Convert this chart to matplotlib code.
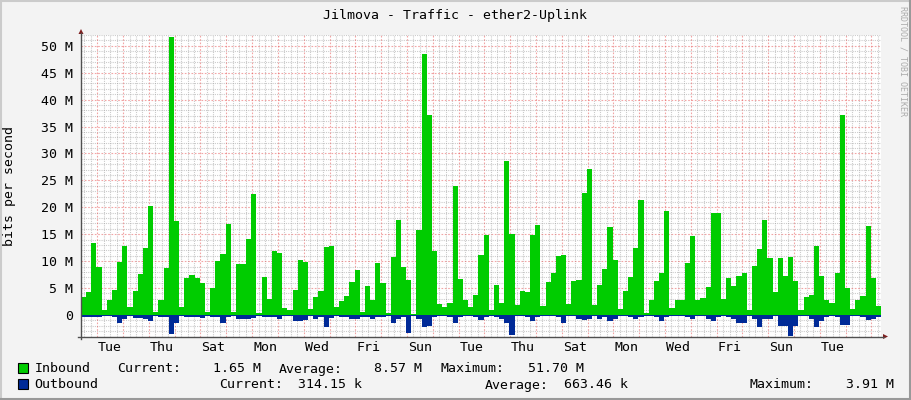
import numpy as np
import matplotlib
matplotlib.use("Agg")
import matplotlib.pyplot as plt
from matplotlib.patches import Rectangle, Polygon
from matplotlib.lines import Line2D

W, H = 911, 400

# traffic in Mbit/s, one sample every 4.8 hours (5 per day), 31 days
inbound = [
    3.4, 4.3, 13.4, 8.9, 0.9, 2.7, 4.6, 9.9, 12.9, 1.5, 4.5, 7.6, 12.4, 20.2, 0.6, 2.8, 8.7, 51.7, 17.4, 1.5, 6.9, 7.4, 6.9, 6.0, 0.6, 5.1,
    10.0, 11.3, 16.9, 0.6, 9.5, 9.5, 14.1, 22.5, 0.3, 7.1, 3.0, 11.9, 11.5, 1.3, 0.9, 4.6, 10.2, 9.8, 1.1, 3.4, 4.5, 12.6, 12.8, 1.4, 2.6, 3.6,
    6.2, 8.4, 0.6, 5.3, 2.7, 9.7, 6.0, 0.3, 10.8, 17.6, 8.9, 6.5, 0.2, 15.8, 48.5, 37.1, 11.8, 2.0, 1.4, 2.2, 23.9, 6.7, 2.8, 1.5, 3.7, 11.1,
    14.9, 0.9, 5.6, 2.3, 28.6, 15.0, 1.9, 4.5, 4.3, 14.9, 16.7, 1.7, 6.1, 7.8, 11.0, 11.1, 2.0, 6.4, 6.5, 22.7, 27.1, 1.9, 5.6, 8.6, 16.3, 10.2,
    1.1, 4.5, 7.1, 12.4, 21.3, 0.3, 2.8, 6.3, 7.8, 19.3, 1.3, 2.8, 2.8, 9.7, 14.7, 2.8, 3.2, 5.2, 18.9, 18.9, 3.0, 6.9, 5.4, 7.2, 7.8,
    0.9, 9.1, 12.3, 17.6, 10.6, 4.3, 10.6, 7.2, 10.8, 6.3, 0.9, 3.3, 3.7, 12.8, 7.2, 2.8, 2.2, 7.8, 37.1, 5.0, 1.1, 2.8, 3.5, 16.5, 6.9, 1.65,
]
outbound = [
    0.3, 0.3, 0.45, 0.45, 0.2, 0.2, 0.4, 1.4, 0.7, 0.2, 0.5, 0.5, 0.7, 1.2, 0.2, 0.3, 0.4, 3.6, 1.5, 0.2, 0.3, 0.4, 0.4, 0.6, 0.2, 0.3,
    0.4, 1.5, 0.3, 0.2, 0.8, 0.8, 0.8, 0.6, 0.2, 0.3, 0.3, 0.4, 0.8, 0.2, 0.2, 1.2, 1.2, 0.9, 0.2, 0.8, 0.4, 2.2, 0.6, 0.2, 0.3, 0.4,
    0.8, 0.8, 0.3, 0.3, 0.8, 0.3, 0.4, 0.2, 1.5, 0.7, 0.4, 3.4, 0.2, 0.7, 2.3, 2.0, 0.4, 0.2, 0.2, 0.4, 1.4, 0.4, 0.2, 0.2, 0.3, 0.9,
    0.3, 0.2, 0.3, 0.7, 1.4, 3.75, 0.2, 0.2, 0.4, 1.2, 0.4, 0.2, 0.2, 0.2, 0.4, 1.4, 0.2, 0.2, 0.8, 0.9, 0.8, 0.2, 0.7, 0.4, 1.2, 0.7,
    0.2, 0.2, 0.3, 0.7, 0.4, 0.2, 0.2, 0.4, 1.1, 0.4, 0.2, 0.2, 0.2, 0.4, 0.8, 0.2, 0.2, 0.7, 1.1, 0.4, 0.2, 0.4, 0.7, 1.4, 1.5,
    0.2, 0.7, 2.2, 0.7, 0.7, 0.2, 2.0, 2.0, 3.91, 2.0, 0.2, 0.2, 0.7, 2.2, 1.2, 0.3, 0.2, 0.4, 1.9, 1.9, 0.2, 0.2, 0.4, 0.9, 0.7, 0.31,
]
day_labels = ["Tue", "Thu", "Sat", "Mon", "Wed", "Fri", "Sun", "Tue",
              "Thu", "Sat", "Mon", "Wed", "Fri", "Sun", "Tue"]
samples_per_day = 5
first_midnight = 3.15  # in samples from the left edge

legend_rows = [
    ("Inbound", "#00CC00", [("Current:", 116.7), ("1.65 M", 212.7), ("Average:", 279.0),
                            ("8.57 M", 374.0), ("Maximum:", 440.7), ("51.70 M", 528.3)]),
    ("Outbound", "#002A97", [("Current:", 219.3), ("314.15 k", 298.0), ("Average:", 485.0),
                             ("663.46 k", 564.3), ("Maximum:", 749.7), ("3.91 M", 845.7)]),
]

plt.rcParams['font.family'] = 'DejaVu Sans Mono'
plt.rcParams['font.size'] = 9.5


def fx(x):
    return x / W


def fy(y):
    return 1 - y / H


fig = plt.figure(figsize=(W / 100, H / 100), dpi=100, facecolor='#F3F3F3')
ax = fig.add_axes([fx(81), fy(336.5), 800 / W, 301.5 / H])
ax.set_facecolor('white')

n = len(inbound)
x = np.arange(n + 1)
inb = np.append(inbound, inbound[-1])
outb = -np.append(outbound, outbound[-1])
ax.fill_between(x, 0, inb, step='post', color='#00CC00', lw=0, zorder=3)
ax.fill_between(x, 0, outb, step='post', color='#002A97', lw=0, zorder=3)
ax.set_xlim(0, n)
ax.set_ylim(-4.0, 52.0)

minor_kw = dict(color=(0.6, 0.6, 0.6, 0.5), lw=0.8, ls=(0, (1, 1)), zorder=1)
major_kw = dict(color=(0.9, 0.3, 0.3, 0.5), lw=0.8, ls=(0, (1.5, 1.5)), zorder=2)
for v in range(-4, 53):
    ax.axhline(v, **(major_kw if v % 5 == 0 else minor_kw))

step6h = samples_per_day / 4
k = -int(first_midnight // step6h)
while first_midnight + k * step6h < n:
    pos = first_midnight + k * step6h
    ax.axvline(pos, **(major_kw if k % 4 == 0 else minor_kw))
    k += 1

for s in ax.spines.values():
    s.set_visible(False)

yt = list(range(0, 51, 5))
ax.set_yticks(yt, ["0" if v == 0 else f"{v} M" for v in yt])
ax.tick_params(axis='y', length=0, pad=6)
xt = [first_midnight + samples_per_day / 2 + 2 * samples_per_day * i for i in range(len(day_labels))]
ax.set_xticks(xt, day_labels)
ax.tick_params(axis='x', length=0, pad=3)

# axes and arrows
axis_col = '#505050'
fig.add_artist(Line2D([fx(81), fx(81)], [fy(339), fy(33)], color=axis_col, lw=1))
fig.add_artist(Line2D([fx(78), fx(884)], [fy(336.5), fy(336.5)], color=axis_col, lw=1))
fig.add_artist(Polygon([[fx(78.5), fy(34)], [fx(83.5), fy(34)], [fx(81), fy(29)]],
                       closed=True, color='#7F1F1F', lw=0))
fig.add_artist(Polygon([[fx(883), fy(334)], [fx(883), fy(339)], [fx(888), fy(336.5)]],
                       closed=True, color='#7F1F1F', lw=0))

fig.text(fx(455), fy(18.5), "Jilmova - Traffic - ether2-Uplink", ha='center', va='baseline')
fig.text(fx(10), fy(186), "bits per second", rotation=90, ha='center', va='center')
fig.text(fx(902.5), fy(61), "RRDTOOL / TOBI OETIKER", rotation=270, ha='center', va='center',
         fontsize=6, color='#ABABAB')

for r, (name, col, items) in enumerate(legend_rows):
    base = 372.5 + 16 * r
    fig.add_artist(Rectangle((fx(17.5), fy(base + 0.5)), 10 / W, 10 / H,
                             facecolor=col, edgecolor='black', lw=0.8))
    fig.text(fx(34.3), fy(base), name, va='baseline')
    for txt, px in items:
        fig.text(fx(px), fy(base), txt, va='baseline')

# frame
fig.add_artist(Line2D([0, 1], [fy(0.5), fy(0.5)], color='#CBCBCB', lw=1.5))
fig.add_artist(Line2D([fx(0.5), fx(0.5)], [0, 1], color='#CBCBCB', lw=1.5))
fig.add_artist(Line2D([0, 1], [fy(399), fy(399)], color='#999999', lw=1.5))
fig.add_artist(Line2D([fx(910), fx(910)], [0, 1], color='#999999', lw=1.5))

fig.savefig("out.png", dpi=100, facecolor=fig.get_facecolor())
